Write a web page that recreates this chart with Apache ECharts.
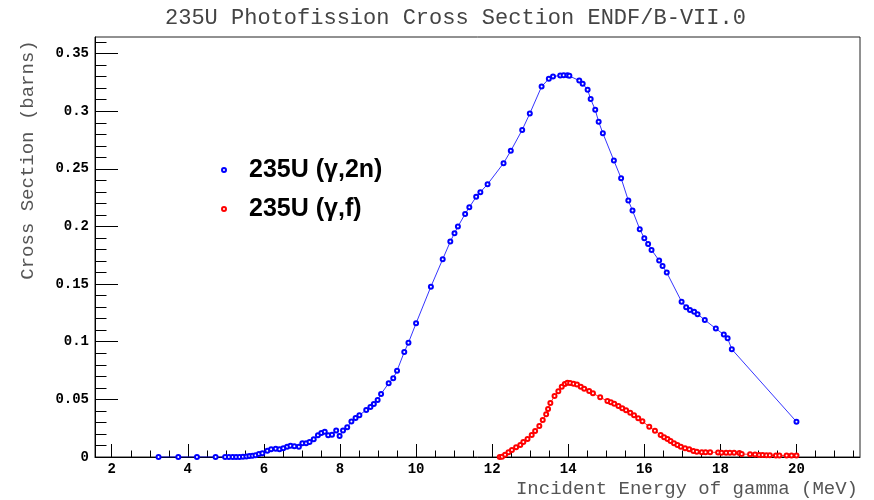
<!DOCTYPE html>
<html>
<head>
<meta charset="utf-8">
<script src="https://cdn.jsdelivr.net/npm/echarts@6/dist/echarts.min.js"></script>
<style>
  html, body { margin: 0; padding: 0; background: #fff; }
  #chart { width: 874px; height: 500px; }
</style>
</head>
<body>
<div id="chart"></div>
<script>
// 235U (gamma,2n) cross section: [energy MeV, barns]
const gamma2n = [
  [3.23,0],[3.75,0],[4.24,0],[4.73,0],[4.98,0],[5.08,0],[5.18,0],[5.27,0],
  [5.36,0],[5.45,0.0003],[5.54,0.0005],[5.62,0.0008],[5.70,0.0010],[5.78,0.0015],
  [5.87,0.0026],[5.96,0.0032],[6.09,0.0055],[6.19,0.0067],[6.31,0.0072],[6.41,0.0067],
  [6.51,0.0075],[6.61,0.0090],[6.70,0.0098],[6.80,0.0093],[6.92,0.0090],[7.01,0.0119],
  [7.11,0.0119],[7.20,0.0130],[7.31,0.0153],[7.42,0.0188],[7.51,0.0208],[7.60,0.0220],
  [7.69,0.0188],[7.79,0.0194],[7.90,0.0229],[7.99,0.0182],[8.08,0.0229],[8.19,0.0258],
  [8.30,0.0307],[8.41,0.0339],[8.51,0.0362],[8.69,0.0408],[8.80,0.0434],[8.89,0.0460],
  [8.99,0.0495],[9.08,0.0547],[9.28,0.0640],[9.40,0.0683],[9.50,0.0749],[9.69,0.0911],
  [9.80,0.0992],[10.00,0.1160],[10.39,0.1478],[10.70,0.1716],[10.90,0.1869],[11.01,0.1942],
  [11.10,0.1999],[11.29,0.2109],[11.40,0.2167],[11.58,0.2257],[11.69,0.2298],[11.88,0.2367],
  [12.30,0.2549],[12.49,0.2656],[12.79,0.2838],[12.99,0.2980],[13.30,0.3214],[13.49,0.3281],
  [13.60,0.3301],[13.79,0.3310],[13.88,0.3313],[13.98,0.3313],[14.03,0.3307],[14.29,0.3266],
  [14.38,0.3238],[14.51,0.3186],[14.59,0.3105],[14.71,0.3012],[14.80,0.2908],[14.91,0.2810],
  [15.20,0.2572],[15.39,0.2419],[15.58,0.2225],[15.69,0.2138],[15.88,0.1977],[16.00,0.1898],
  [16.10,0.1849],[16.19,0.1797],[16.39,0.1704],[16.48,0.1658],[16.59,0.1600],[16.98,0.1348],
  [17.10,0.1299],[17.20,0.1276],[17.31,0.1261],[17.40,0.1239],[17.59,0.1189],[17.88,0.1114],
  [18.09,0.1062],[18.19,0.1030],[18.30,0.0935],[20.00,0.0306]
];

// 235U (gamma,f) cross section: [energy MeV, barns]
const gammaF = [
  [12.20,0],[12.26,0.0003],[12.34,0.0020],[12.43,0.0041],[12.52,0.0061],[12.63,0.0084],
  [12.74,0.0104],[12.82,0.0130],[12.93,0.0156],[13.04,0.0191],[13.13,0.0226],[13.24,0.0269],
  [13.33,0.0321],[13.42,0.0370],[13.47,0.0417],[13.53,0.0469],[13.64,0.0529],[13.74,0.0570],
  [13.83,0.0610],[13.91,0.0634],[13.98,0.0645],[14.05,0.0642],[14.14,0.0636],[14.23,0.0628],
  [14.33,0.0610],[14.42,0.0593],[14.55,0.0573],[14.65,0.0553],[14.84,0.0518],[15.03,0.0486],
  [15.12,0.0475],[15.21,0.0463],[15.32,0.0443],[15.42,0.0423],[15.52,0.0405],[15.63,0.0385],
  [15.73,0.0362],[15.84,0.0336],[15.95,0.0310],[16.13,0.0263],[16.28,0.0228],[16.43,0.0191],
  [16.52,0.0171],[16.61,0.0156],[16.69,0.0139],[16.78,0.0119],[16.87,0.0104],[16.96,0.0090],
  [17.07,0.0075],[17.18,0.0067],[17.29,0.0052],[17.38,0.0046],[17.51,0.0041],[17.61,0.0041],
  [17.73,0.0041],[17.94,0.0040],[18.03,0.0037],[18.15,0.0037],[18.25,0.0036],[18.36,0.0036],
  [18.50,0.0035],[18.56,0.0026],[18.78,0.0023],[18.91,0.0022],[19.02,0.0017],[19.11,0.0017],
  [19.21,0.0015],[19.30,0.0015],[19.46,0.0014],[19.55,0.0012],[19.74,0.0012],[19.87,0.0014],
  [20.00,0.0013]
];

// axis ticks
const xMajorTicks = [2, 4, 6, 8, 10, 12, 14, 16, 18, 20];
const xMinorTicks = [2.5, 3, 3.5, 4.5, 5, 5.5, 6.5, 7, 7.5, 8.5, 9, 9.5, 10.5, 11, 11.5,
  12.5, 13, 13.5, 14.5, 15, 15.5, 16.5, 17, 17.5, 18.5, 19, 19.5, 20.5, 21, 21.5];
const yMajorTicks = [0, 0.05, 0.1, 0.15, 0.2, 0.25, 0.3, 0.35];
const yMinorTicks = [0.01, 0.02, 0.03, 0.04, 0.06, 0.07, 0.08, 0.09, 0.11, 0.12, 0.13, 0.14,
  0.16, 0.17, 0.18, 0.19, 0.21, 0.22, 0.23, 0.24, 0.26, 0.27, 0.28, 0.29, 0.31, 0.32, 0.33,
  0.34, 0.36];

const seriesNames = ['235U (\u03b3,2n)', '235U (\u03b3,f)'];

const X_MIN = 1.56, X_MAX = 21.67, Y_MIN = 0, Y_MAX = 0.3644;
const MONO = '"Liberation Mono", "DejaVu Sans Mono", monospace';
const tickLabel = { fontFamily: MONO, fontWeight: 'bold', fontSize: 14, color: '#000' };

const chart = echarts.init(document.getElementById('chart'), null, { renderer: 'canvas' });

function xAxisDef(major) {
  return {
    type: 'value', min: X_MIN, max: X_MAX, position: 'bottom',
    axisLine: { show: major, onZero: false, lineStyle: { color: '#000', width: 1 } },
    splitLine: { show: false },
    axisTick: {
      show: true, inside: true, length: major ? 13 : 6.5,
      customValues: major ? xMajorTicks : xMinorTicks,
      lineStyle: { color: '#000', width: 1 }
    },
    axisLabel: major
      ? Object.assign({ show: true, margin: 5, customValues: xMajorTicks }, tickLabel)
      : { show: false }
  };
}

function yAxisDef(major) {
  return {
    type: 'value', min: Y_MIN, max: Y_MAX, position: 'left',
    axisLine: { show: major, onZero: false, lineStyle: { color: '#000', width: 1 } },
    splitLine: { show: false },
    axisTick: {
      show: true, inside: true, length: major ? 23 : 11.5,
      customValues: major ? yMajorTicks : yMinorTicks,
      lineStyle: { color: '#000', width: 1 }
    },
    axisLabel: major
      ? Object.assign({ show: true, margin: 6, customValues: yMajorTicks }, tickLabel)
      : { show: false }
  };
}

const option = {
  animation: false,
  backgroundColor: '#fff',
  title: {
    text: '235U Photofission Cross Section ENDF/B-VII.0',
    left: 160, top: 2,
    textStyle: { fontFamily: MONO, fontWeight: 'normal', fontSize: 22, color: '#444' }
  },
  grid: {
    left: 95, right: 14, top: 37, bottom: 43,
    show: true, borderColor: '#222', borderWidth: 1, backgroundColor: 'transparent'
  },
  xAxis: [xAxisDef(true), xAxisDef(false)],
  yAxis: [yAxisDef(true), yAxisDef(false)],
  legend: {
    orient: 'vertical', left: 216, top: 152,
    itemWidth: 40, itemHeight: 4, itemGap: 13,
    icon: 'emptyCircle',
    itemStyle: { borderWidth: 0.8 },
    textStyle: {
      fontFamily: '"Liberation Sans", Arial, sans-serif', fontWeight: 'bold',
      fontSize: 25, lineHeight: 26, color: '#000'
    },
    data: seriesNames
  },
  graphic: [
    {
      type: 'text', right: 16, top: 479,
      style: {
        text: 'Incident Energy of gamma (MeV)', fontFamily: MONO, fontSize: 19,
        fill: '#555', textAlign: 'right'
      }
    },
    {
      type: 'text', x: 28, y: 160, rotation: Math.PI / 2,
      style: {
        text: 'Cross Section (barns)', fontFamily: MONO, fontSize: 19, fill: '#555',
        align: 'center', verticalAlign: 'middle'
      }
    }
  ],
  series: [
    {
      name: seriesNames[0], type: 'line', data: gamma2n,
      xAxisIndex: 0, yAxisIndex: 0,
      symbol: 'emptyCircle', symbolSize: 4, showAllSymbol: true,
      lineStyle: { color: '#0000ff', width: 0.8 },
      itemStyle: { color: '#0000ff', borderColor: '#0000ff', borderWidth: 0.8 },
      emphasis: { disabled: true }
    },
    {
      name: seriesNames[1], type: 'line', data: gammaF,
      xAxisIndex: 0, yAxisIndex: 0,
      symbol: 'emptyCircle', symbolSize: 4, showAllSymbol: true,
      lineStyle: { color: '#ff0000', width: 0.8 },
      itemStyle: { color: '#ff0000', borderColor: '#ff0000', borderWidth: 0.8 },
      emphasis: { disabled: true }
    }
  ]
};

chart.setOption(option);
</script>
</body>
</html>
